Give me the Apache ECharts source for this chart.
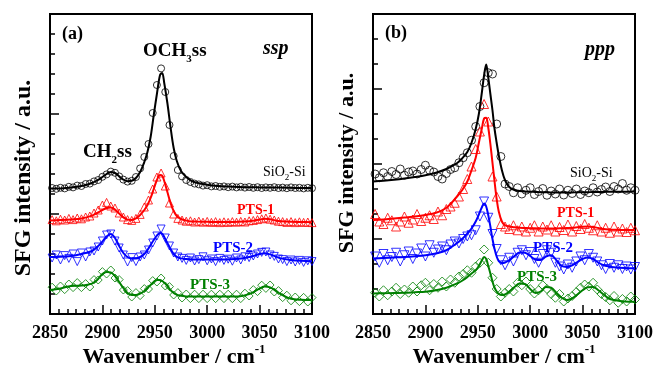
<!DOCTYPE html>
<html><head><meta charset="utf-8">
<script src="https://cdn.jsdelivr.net/npm/echarts@6/dist/echarts.min.js"></script>
<style>html,body{margin:0;padding:0;background:#fff}#c{width:656px;height:373px}</style>
</head><body><div id="c"></div>
<script>
// shared wavenumber positions of the measured points (cm-1)
const xPts = [2852,2856,2860,2864,2868,2872,2876,2880,2884,2888,2892,2896,2900,2904,2908,2912,2916,2920,2924,2928,2932,2936,2940,2944,2948,2952,2956,2960,2964,2968,2972,2976,2980,2984,2988,2992,2996,3000,3004,3008,3012,3016,3020,3024,3028,3032,3036,3040,3044,3048,3052,3056,3060,3064,3068,3072,3076,3080,3084,3088,3092,3096,3100];
// (a) ssp points
const aSiO2 = [6.30,6.26,6.31,6.28,6.36,6.33,6.42,6.40,6.50,6.52,6.63,6.70,6.86,6.98,7.12,7.06,6.88,6.72,6.62,6.66,6.85,7.28,7.85,8.50,10.05,11.45,12.28,11.10,9.45,7.90,7.20,6.88,6.70,6.60,6.52,6.48,6.42,6.44,6.38,6.40,6.36,6.38,6.34,6.37,6.33,6.36,6.32,6.35,6.31,6.34,6.30,6.33,6.31,6.34,6.30,6.32,6.29,6.33,6.30,6.31,6.28,6.31,6.29];
const aPTS1 = [4.72,4.66,4.74,4.70,4.78,4.72,4.80,4.76,4.85,4.90,5.05,5.20,5.45,5.58,5.40,5.30,5.05,4.85,4.72,4.68,4.78,4.98,5.35,5.70,6.25,6.85,7.05,6.40,5.55,5.00,4.78,4.70,4.64,4.66,4.60,4.64,4.59,4.63,4.58,4.62,4.57,4.61,4.58,4.62,4.59,4.63,4.60,4.66,4.68,4.72,4.76,4.80,4.74,4.70,4.64,4.62,4.58,4.62,4.57,4.61,4.58,4.60,4.57];
const aPTS2 = [2.80,2.95,2.70,2.92,2.78,3.00,2.62,3.05,2.85,3.10,3.15,3.35,3.65,3.95,4.00,3.65,3.30,2.95,2.60,2.82,2.62,2.85,2.95,3.20,3.55,3.90,4.25,3.80,3.40,3.05,2.85,2.78,2.68,2.80,2.65,2.72,2.86,2.66,2.75,2.62,2.78,2.68,2.74,2.64,2.80,2.70,2.86,2.82,2.90,3.00,3.08,3.10,2.95,2.88,2.75,2.72,2.62,2.70,2.60,2.68,2.58,2.66,2.62];
const aPTS3 = [1.34,1.15,1.40,1.22,1.50,1.32,1.57,1.32,1.52,1.35,1.72,1.70,2.12,2.00,2.20,1.80,1.72,1.20,1.17,0.85,1.07,0.92,1.27,1.25,1.67,1.60,1.80,1.40,1.37,0.95,1.07,0.80,1.00,0.77,0.99,0.77,0.99,0.77,0.99,0.77,0.99,0.77,0.99,0.77,0.99,0.77,1.04,0.90,1.22,1.12,1.44,1.28,1.45,1.10,1.17,0.82,0.94,0.66,0.85,0.62,0.83,0.60,0.82];
// (a) fitted curves
const aFitX = [2850,2860,2870,2880,2890,2895,2900,2904,2908,2912,2916,2920,2924,2928,2932,2936,2940,2943,2946,2949,2952,2955,2957,2959,2962,2965,2968,2971,2975,2980,2985,2990,3000,3010,3020,3030,3040,3045,3050,3055,3060,3065,3070,3080,3090,3100];
const aSiO2Fit = [6.27,6.28,6.32,6.40,6.55,6.68,6.85,7.00,7.10,7.05,6.88,6.72,6.64,6.66,6.80,7.10,7.60,8.10,8.85,9.95,11.0,11.95,12.05,11.55,10.55,9.35,8.30,7.65,7.15,6.85,6.66,6.56,6.46,6.40,6.37,6.35,6.34,6.34,6.33,6.33,6.33,6.32,6.32,6.31,6.30,6.30];
const aPTS1Fit = [4.68,4.70,4.73,4.78,4.92,5.05,5.20,5.30,5.33,5.22,5.02,4.83,4.72,4.70,4.78,4.95,5.20,5.45,5.80,6.25,6.70,6.95,6.92,6.65,6.10,5.55,5.15,4.90,4.75,4.67,4.63,4.62,4.61,4.60,4.60,4.61,4.64,4.68,4.72,4.76,4.74,4.68,4.64,4.61,4.60,4.59];
const aPTS2Fit = [2.85,2.86,2.90,3.00,3.15,3.35,3.62,3.88,4.00,3.80,3.40,3.05,2.85,2.78,2.78,2.85,3.00,3.20,3.45,3.70,3.92,4.05,4.02,3.85,3.55,3.25,3.00,2.86,2.78,2.75,2.73,2.72,2.72,2.72,2.73,2.76,2.85,2.92,3.00,3.04,2.98,2.88,2.78,2.70,2.66,2.64];
const aPTS3Fit = [1.20,1.28,1.40,1.42,1.52,1.70,2.00,2.10,2.08,1.90,1.60,1.30,1.05,0.95,0.95,1.02,1.15,1.30,1.45,1.60,1.70,1.70,1.65,1.57,1.40,1.20,1.05,0.97,0.91,0.88,0.87,0.87,0.87,0.87,0.87,0.88,1.00,1.12,1.27,1.37,1.33,1.18,1.00,0.76,0.71,0.70];
// (b) ppp points
const bSiO2 = [5.60,5.45,5.65,5.50,5.70,5.58,5.80,5.55,5.68,5.72,5.60,5.78,5.95,5.75,5.68,5.50,5.40,5.62,5.78,5.85,6.05,6.25,6.45,6.95,7.50,8.30,9.25,9.65,9.60,7.60,6.30,5.20,5.10,4.85,5.05,4.80,4.95,5.05,4.78,4.90,5.02,4.75,4.92,4.80,5.00,4.76,4.95,4.82,5.00,4.78,4.92,4.85,5.05,4.88,4.98,5.08,4.90,5.10,5.00,5.22,4.95,5.05,4.95];
const bPTS1 = [4.00,3.70,3.60,3.85,3.75,3.50,3.70,3.90,3.65,3.78,4.00,3.72,3.85,3.95,3.80,4.10,3.95,4.20,4.30,4.45,4.70,5.00,5.40,5.90,6.60,7.30,8.40,7.70,5.50,4.70,3.60,3.50,3.40,3.55,3.35,3.50,3.30,3.45,3.55,3.30,3.50,3.38,3.55,3.30,3.48,3.36,3.58,3.30,3.52,3.40,3.60,3.45,3.35,3.55,3.30,3.45,3.25,3.50,3.30,3.42,3.28,3.45,3.35];
const bPTS2 = [2.30,2.05,2.40,2.15,2.28,2.45,2.10,2.35,2.50,2.20,2.42,2.62,2.30,2.75,2.45,2.58,2.70,2.55,2.78,2.90,2.82,3.00,3.10,3.15,3.35,3.90,4.50,3.85,3.20,2.60,2.15,1.95,2.25,2.10,2.45,2.55,2.35,2.48,2.20,2.05,2.40,2.55,2.45,2.05,1.90,1.78,1.98,1.85,2.10,2.30,2.15,2.40,2.25,2.10,1.95,1.80,2.00,1.85,1.95,1.80,1.90,1.78,1.88];
const bPTS3 = [0.85,0.70,0.95,0.75,0.90,1.05,0.80,0.98,0.85,1.10,0.90,1.15,1.25,0.95,1.20,1.05,1.30,1.10,1.38,1.25,1.50,1.60,1.75,1.65,1.90,2.05,2.58,2.05,1.45,1.00,0.70,0.85,1.00,0.90,1.25,1.15,1.30,1.00,0.82,0.95,1.15,1.00,0.80,0.65,0.80,0.50,0.62,0.72,0.88,1.05,1.18,1.10,1.25,0.98,0.80,0.68,0.55,0.72,0.45,0.60,0.50,0.70,0.58];
// (b) fitted curves
const bFitX = [2850,2860,2870,2880,2890,2900,2910,2920,2930,2935,2940,2944,2948,2951,2954,2956,2958,2960,2962,2964,2966,2968,2970,2973,2976,2980,2985,2990,2995,3000,3005,3010,3015,3020,3025,3030,3035,3040,3045,3050,3055,3060,3065,3070,3075,3080,3090,3100];
const bSiO2Fit = [5.30,5.33,5.37,5.42,5.48,5.55,5.65,5.80,6.03,6.22,6.48,6.85,7.40,8.00,8.90,9.55,9.98,9.45,8.80,8.15,7.40,6.85,6.35,5.75,5.35,5.08,4.96,4.92,4.90,4.89,4.88,4.87,4.87,4.86,4.86,4.86,4.86,4.86,4.87,4.87,4.87,4.88,4.88,4.88,4.89,4.89,4.89,4.90];
const bPTS1Fit = [3.76,3.78,3.82,3.86,3.90,3.96,4.05,4.25,4.69,4.95,5.30,5.75,6.25,6.85,7.45,7.82,7.85,7.45,6.80,6.05,5.30,4.60,4.10,3.70,3.55,3.50,3.47,3.45,3.44,3.43,3.43,3.42,3.42,3.42,3.42,3.43,3.44,3.45,3.47,3.49,3.50,3.48,3.44,3.40,3.38,3.37,3.36,3.36];
const bPTS2Fit = [2.22,2.24,2.26,2.28,2.31,2.35,2.42,2.55,2.83,3.00,3.22,3.42,3.70,3.98,4.28,4.42,4.30,3.95,3.50,3.00,2.60,2.30,2.12,2.04,2.06,2.15,2.32,2.46,2.45,2.32,2.18,2.16,2.30,2.35,2.15,1.92,1.88,1.95,2.08,2.20,2.26,2.20,2.06,1.95,1.90,1.87,1.84,1.83];
const bPTS3Fit = [0.82,0.83,0.84,0.85,0.87,0.89,0.95,1.05,1.22,1.33,1.48,1.62,1.75,1.92,2.15,2.28,2.20,1.92,1.62,1.30,1.05,0.90,0.80,0.76,0.78,0.90,1.08,1.22,1.20,1.00,0.84,0.90,1.08,1.05,0.85,0.65,0.56,0.62,0.78,0.95,1.07,1.08,0.95,0.78,0.62,0.56,0.50,0.49];
const xTicks = [2850, 2900, 2950, 3000, 3050, 3100];

const FONT = '"Liberation Serif","Times New Roman",serif';
const BLACK = '#000000', RED = '#ff0000', BLUE = '#0000ff', GREEN = '#008000';
const pairs = (xs, ys) => xs.map((x, i) => [x, ys[i]]);

function pts(idx, xs, ys, color, symbol, size, rot) {
  return { type: 'scatter', xAxisIndex: idx, yAxisIndex: idx, data: pairs(xs, ys),
    symbol: symbol, symbolSize: size, symbolRotate: rot || 0, z: 2, silent: true,
    itemStyle: { color: 'rgba(0,0,0,0)', borderColor: color, borderWidth: 1 } };
}
function fit(idx, xs, ys, color) {
  return { type: 'line', xAxisIndex: idx, yAxisIndex: idx, data: pairs(xs, ys),
    smooth: 0.35, showSymbol: false, z: 3, silent: true,
    lineStyle: { color: color, width: 2 } };
}
function xAx(idx) {
  return { type: 'value', gridIndex: idx, min: 2850, max: 3100, interval: 50,
    axisLine: { show: false },
    axisTick: { inside: true, length: 9, lineStyle: { color: '#000', width: 1.5 } },
    minorTick: { show: true, splitNumber: 6, length: 5, lineStyle: { color: '#000', width: 1.5 } },
    splitLine: { show: false }, minorSplitLine: { show: false },
    axisLabel: { show: true, margin: 10, color: '#000', fontFamily: FONT, fontWeight: 'bold', fontSize: 18,
      showMinLabel: true, showMaxLabel: true,
      formatter: v => xTicks.indexOf(v) >= 0 ? String(v) : '' } };
}
function yAx(idx, max, interval, minorSplit) {
  return { type: 'value', gridIndex: idx, min: 0, max: max, interval: interval,
    axisLine: { show: false }, axisLabel: { show: false },
    axisTick: { inside: true, length: 9, lineStyle: { color: '#000', width: 1.5 } },
    minorTick: { show: true, splitNumber: minorSplit, length: 5, lineStyle: { color: '#000', width: 1.5 } },
    splitLine: { show: false }, minorSplitLine: { show: false } };
}
function fontStr(size, weight, style) {
  return (style || 'normal') + ' ' + (weight || 'bold') + ' ' + size + 'px ' + FONT;
}
function txt(x, y, text, size, color, opts) {
  opts = opts || {};
  return { type: 'text', x: x, y: y, rotation: opts.rot || 0, z: 10, silent: true,
    style: { text: text, fill: color, font: fontStr(size, opts.weight, opts.style),
      align: opts.align || 'left', verticalAlign: 'middle' } };
}
const mctx = document.createElement('canvas').getContext('2d');
// text made of runs (for sub/superscripts); parts: [text, size, dy]
function runs(x, y, parts, color, weight, align) {
  const w = parts.map(p => { mctx.font = fontStr(p[1], weight); return mctx.measureText(p[0]).width; });
  const total = w.reduce((a, b) => a + b, 0);
  let sx = align === 'center' ? x - total / 2 : x;
  return parts.map((p, i) => { const el = txt(sx, y + (p[2] || 0), p[0], p[1], color, { weight: weight }); sx += w[i]; return el; });
}

const chart = echarts.init(document.getElementById('c'), null, { renderer: 'canvas' });
chart.setOption({
  animation: false,
  backgroundColor: '#fff',
  grid: [
    { left: 50, top: 14, width: 262, height: 300, show: true, borderColor: '#000', borderWidth: 2, backgroundColor: 'transparent' },
    { left: 373, top: 14, width: 262, height: 300, show: true, borderColor: '#000', borderWidth: 2, backgroundColor: 'transparent' }
  ],
  xAxis: [xAx(0), xAx(1)],
  yAxis: [yAx(0, 15, 5, 5), yAx(1, 12, 3, 3)],
  series: [
    pts(0, xPts, aSiO2, BLACK, 'circle', 7), fit(0, aFitX, aSiO2Fit, BLACK),
    pts(0, xPts, aPTS1, RED, 'triangle', 8), fit(0, aFitX, aPTS1Fit, RED),
    pts(0, xPts, aPTS2, BLUE, 'triangle', 8, 180), fit(0, aFitX, aPTS2Fit, BLUE),
    pts(0, xPts, aPTS3, GREEN, 'diamond', 8), fit(0, aFitX, aPTS3Fit, GREEN),
    pts(1, xPts, bSiO2, BLACK, 'circle', 8), fit(1, bFitX, bSiO2Fit, BLACK),
    pts(1, xPts, bPTS1, RED, 'triangle', 9), fit(1, bFitX, bPTS1Fit, RED),
    pts(1, xPts, bPTS2, BLUE, 'triangle', 9, 180), fit(1, bFitX, bPTS2Fit, BLUE),
    pts(1, xPts, bPTS3, GREEN, 'diamond', 9), fit(1, bFitX, bPTS3Fit, GREEN)
  ],
  graphic: [].concat(
    [txt(62, 34, '(a)', 18, '#000'),
     txt(385, 33, '(b)', 18, '#000'),
     txt(263, 49, 'ssp', 20, '#000', { style: 'italic' }),
     txt(585, 50, 'ppp', 20, '#000', { style: 'italic' })],
    runs(143, 51, [['OCH', 19], ['3', 11, 8], ['ss', 19]], '#000', 'bold'),
    runs(83, 152, [['CH', 19], ['2', 11, 8], ['ss', 19]], '#000', 'bold'),
    runs(263, 172, [['SiO', 14], ['2', 9, 6], ['-Si', 14]], '#000', 'normal'),
    runs(570, 173, [['SiO', 14], ['2', 9, 6], ['-Si', 14]], '#000', 'normal'),
    [txt(237, 210, 'PTS-1', 14, RED),
     txt(213, 248, 'PTS-2', 15, BLUE),
     txt(190, 285, 'PTS-3', 15, GREEN),
     txt(557, 213, 'PTS-1', 14, RED),
     txt(533, 248, 'PTS-2', 15, BLUE),
     txt(517, 277, 'PTS-3', 15, GREEN)],
    runs(174, 357, [['Wavenumber / cm', 22], ['-1', 13, -7]], '#000', 'bold', 'center'),
    runs(504, 357, [['Wavenumber / cm', 22], ['-1', 13, -7]], '#000', 'bold', 'center'),
    [txt(24, 178, 'SFG intensity / a.u.', 24, '#000', { align: 'center', rot: Math.PI / 2 }),
     txt(347, 163, 'SFG intensity / a.u.', 22, '#000', { align: 'center', rot: Math.PI / 2 })]
  )
});
</script></body></html>
